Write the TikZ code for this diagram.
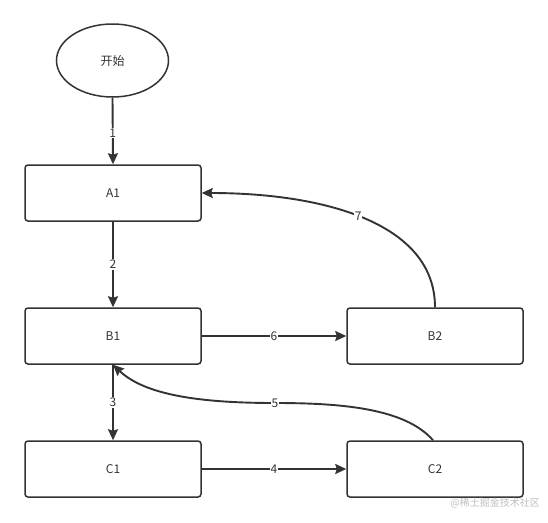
\documentclass[tikz,border=0pt]{standalone}
\usepackage{fontspec}
\setmainfont{Noto Sans CJK SC}
\usetikzlibrary{arrows.meta,shapes.geometric}
\definecolor{ink}{HTML}{333333}
\tikzset{
  box/.style={draw=ink, line width=1.5pt, rounded corners=3pt, minimum width=176pt, minimum height=56pt, inner sep=0pt, font=\fontsize{12}{14}\selectfont, text=ink},
  startnode/.style={draw=ink, line width=1.5pt, ellipse, minimum width=112pt, minimum height=73pt, inner sep=0pt, font=\fontsize{12}{14}\selectfont, text=ink},
  conn/.style={draw=ink, line width=1.9pt, -{Stealth[length=11pt,width=10pt,inset=1.5pt]}},
  lbl/.style={fill=white, inner sep=1pt, font=\fontsize{12}{14}\selectfont, text=ink}
}
\begin{document}
\begin{tikzpicture}[x=1pt,y=-1pt]
\useasboundingbox (0,0) rectangle (548,522);
\node[startnode] (start) at (112.5,60.5) {开始};
\node[box] (a1) at (113,193) {A1};
\node[box] (b1) at (113,336) {B1};
\node[box] (b2) at (435,336) {B2};
\node[box] (c1) at (113,469) {C1};
\node[box] (c2) at (435,469) {C2};
\draw[conn] (start.south) -- node[lbl, pos=0.53] {1} (a1.north);
\draw[conn] (a1.south) -- node[lbl] {2} (b1.north);
\draw[conn] (b1.south) -- node[lbl, pos=0.5] {3} (c1.north);
\draw[conn] (c1.east) -- node[lbl] {4} (c2.west);
\draw[conn] (b1.east) -- node[lbl] {6} (b2.west);
\coordinate (b2top) at (b2.north);
\coordinate (a1right) at (a1.east);
\draw[conn] (b2top) .. controls ++(0,-85) and ++(120,0) .. node[lbl, pos=0.52] {7} (a1right);
\coordinate (c2top) at ([xshift=-2pt]c2.north);
\coordinate (mid5) at (275,403);
\coordinate (b1bot) at (b1.south);
\draw[draw=ink, line width=1.9pt] (c2top) .. controls (405,408) and (340,403) .. (mid5);
\draw[conn] (mid5) .. controls (200,403) and (145,395) .. (b1bot);
\node[lbl] at (mid5) {5};
\node[text=black!25, font=\fontsize{10}{12}\selectfont, anchor=east, inner sep=0pt] (wm) at (540,503) {@稀土掘金技术社区};
\end{tikzpicture}
\end{document}
